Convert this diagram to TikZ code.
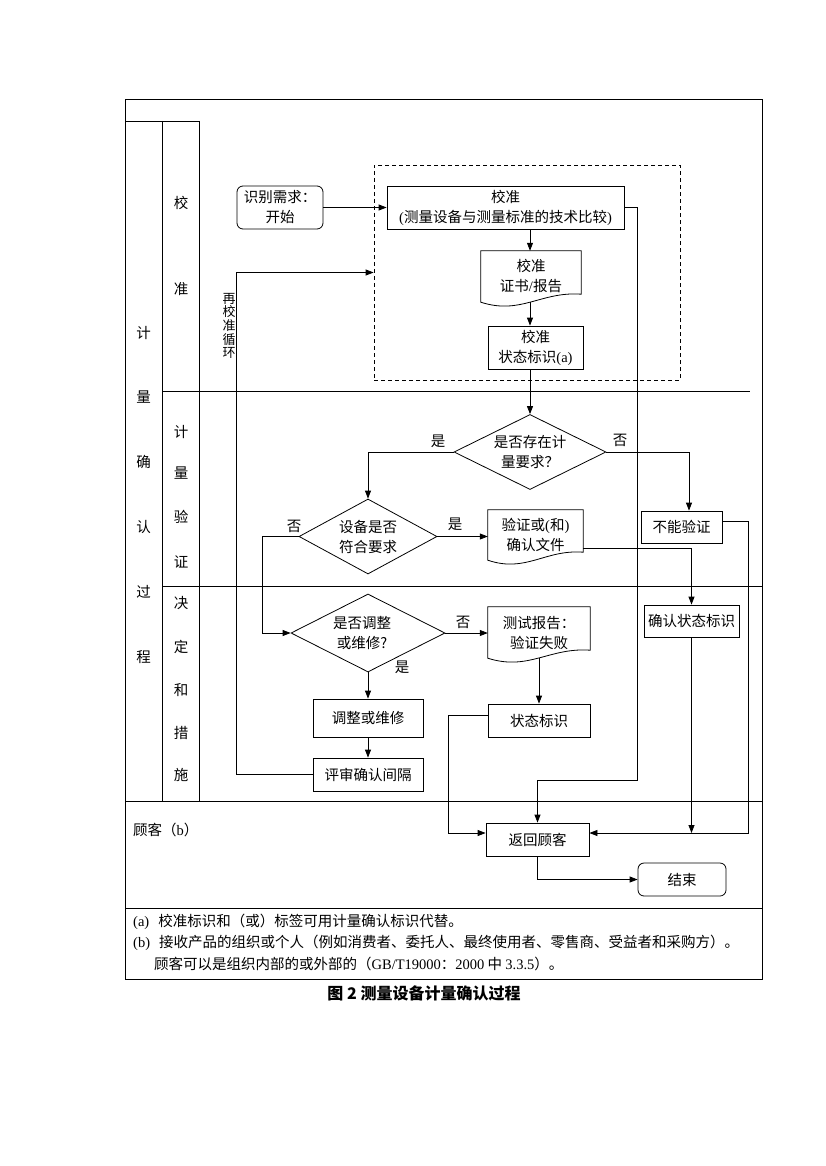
\documentclass[tikz,border=0pt]{standalone}
\usepackage{fontspec}
\setmainfont{Liberation Serif}
\newfontfamily\cjk{Noto Sans CJK SC}
\usetikzlibrary{arrows.meta,calc,shapes.geometric}
\newcommand\latn[1]{{\rmfamily #1}}
\newcommand\docout[1]{\draw[lw] (#1.north west) -- (#1.north east) -- ($(#1.south east)+(0,-8)$) .. controls ($(#1.south east)!0.4!(#1.south west)+(0,-11)$) and ($(#1.south west)!0.4!(#1.south east)+(0,13)$) .. (#1.south west) -- cycle;}
\begin{document}
\begin{tikzpicture}[x=1pt,y=-1pt,
  lw/.style={line width=0.8pt},
  frame/.style={line width=0.9pt},
  arr/.style={lw,-{Triangle[length=8pt,width=6pt]}},
  txt/.style={inner sep=0pt,align=center,font=\cjk\fontsize{14.5}{20}\selectfont},
  box/.style={txt,draw,lw,rectangle},
  rbox/.style={box,rounded corners=6pt},
  docn/.style={txt,rectangle},
  dia/.style={draw,lw,diamond,inner sep=0pt},
  zone/.style={draw,lw,dash pattern=on 4pt off 3pt,rectangle,inner sep=0pt},
  lane/.style={txt},
  yn/.style={txt}
]
\useasboundingbox (0,0) rectangle (825,1166);
\fill[white] (0,0) rectangle (825,1166);

% frame and lanes
\draw[frame] (125,99) rectangle (762,979);
\draw[frame] (125,121) -- (199,121);
\draw[frame] (162,121) -- (162,801);
\draw[frame] (199,121) -- (199,801);
\draw[frame] (162,391) -- (750,391);
\draw[frame] (162,586) -- (762,586);
\draw[frame] (125,801) -- (762,801);
\draw[frame] (125,908) -- (762,908);

% lane labels
\foreach \c/\y in {计/333,量/397,确/462,认/527,过/592,程/657}
  \node[lane] at (143.5,\y) {\c};
\foreach \c/\y in {校/203,准/289,计/432,量/473,验/517,证/562,决/603,定/647,和/690,措/733,施/775}
  \node[lane] at (181,\y) {\c};
\node[lane,anchor=west] (cust) at (133,830) {顾客（\latn{b}）};

% calibration zone
\node[zone,minimum width=306pt,minimum height=215pt] (zone) at (527,272.5) {};

% nodes
\node[rbox,minimum width=86pt,minimum height=43pt] (start) at (280,207.5) {识别需求：\\开始};
\node[box,minimum width=237pt,minimum height=43pt] (cal) at (505.5,207.5) {校准\\\latn{(}测量设备与测量标准的技术比较\latn{)}};
\node[docn,minimum width=100pt,minimum height=51pt] (cert) at (531,276.5) {校准\\证书\latn{/}报告};
\docout{cert}
\node[box,minimum width=95pt,minimum height=43pt] (stat) at (535.5,347.5) {校准\\状态标识\latn{(a)}};

\node[dia,minimum width=152pt,minimum height=75pt] (d1) at (530,452) {};
\node[txt] at (d1) {是否存在计\\量要求？};
\node[dia,minimum width=138pt,minimum height=75pt] (d2) at (368,536.5) {};
\node[txt] at (d2) {设备是否\\符合要求};
\node[docn,minimum width=95pt,minimum height=50pt] (verdoc) at (535.5,535) {验证或\latn{(}和\latn{)}\\确认文件};
\docout{verdoc}
\node[box,minimum width=81pt,minimum height=32pt] (cannot) at (681.5,527) {不能验证};

\node[dia,minimum width=154pt,minimum height=78pt] (d3) at (368,633) {};
\node[txt] at ($(d3)+(-6,0)$) {是否调整\\或维修?};
\node[docn,minimum width=102pt,minimum height=51pt] (testdoc) at (539,632.5) {测试报告：\\验证失败};
\docout{testdoc}
\node[box,minimum width=95pt,minimum height=32pt] (confirm) at (691.5,621) {确认状态标识};

\node[box,minimum width=110pt,minimum height=38pt] (adjust) at (368,718) {调整或维修};
\node[box,minimum width=110pt,minimum height=33pt] (review) at (368,774.5) {评审确认间隔};
\node[box,minimum width=102pt,minimum height=33pt] (status) at (539,720.5) {状态标识};

\node[box,minimum width=103pt,minimum height=33pt] (ret) at (537.5,839.5) {返回顾客};
\node[rbox,minimum width=88pt,minimum height=33pt] (end) at (682,879.5) {结束};

% yes/no labels
\node[yn] at (438,441) {是};
\node[yn] at (620,440) {否};
\node[yn] at (455,524) {是};
\node[yn] at (294,526) {否};
\node[yn] at (463,622) {否};
\node[yn] at (402,667) {是};

% re-calibration loop label
\node[inner sep=0pt,align=center,font=\cjk\fontsize{13}{13.6}\selectfont] (loop) at (229,326) {再\\校\\准\\循\\环};

% connectors
\coordinate (bend) at (637,780);
\draw[arr] (start.east) -- (cal.west);
\draw[arr] (cal.south -| d1.north) -- (cert.north -| d1.north);
\draw[arr] (cert.south -| d1.north) -- (stat.north -| d1.north);
\draw[arr] (stat.south -| d1.north) -- (d1.north);
\draw[arr] (d1.west) -| (d2.north);
\draw[arr] (d1.east) -| ($(cannot.north)+(7.5,0)$);
\draw[arr] (d2.east) -- (d2.east -| verdoc.west);
\draw[arr] (d2.west) -- ++(-36,0) |- (d3.west);
\draw[arr] (d3.east) -- (d3.east -| testdoc.west);
\draw[arr] (d3.south) -- (adjust.north);
\draw[arr] (adjust.south) -- (review.north);
\draw[arr] (review.west) -| ($(zone.west)+(-137,0)$) -- (zone.west);
\draw[arr] (testdoc.south) -- (status.north);
\draw[arr] ($(verdoc.east)+(0,13)$) -| (confirm.north);
\draw[arr] ($(cannot.east)+(0,-6)$) -- ++(26,0) |- ($(ret.east)+(0,-6.5)$);
\draw[arr] (confirm.south) -- ($(confirm.south |- ret.east)+(0,-6.5)$);
\draw[arr] ($(status.west)+(0,-5.5)$) -- ++(-39,0) |- ($(ret.west)+(0,-6.5)$);
\draw[arr] (cal.east) -| (bend) -| (ret.north);
\draw[arr] (ret.south) |- (end.west);

% footnotes
\node[txt,anchor=west] (fa) at (133,922) {\latn{(a)}\hspace{9pt}校准标识和（或）标签可用计量确认标识代替。};
\node[txt,anchor=west] (fb) at (133,943) {\latn{(b)}\hspace{9pt}接收产品的组织或个人（例如消费者、委托人、最终使用者、零售商、受益者和采购方）。};
\node[txt,anchor=west] (fc) at (154,964) {顾客可以是组织内部的或外部的（\latn{GB/T19000}：\latn{2000} 中 \latn{3.3.5}）。};

% caption
\node[inner sep=0pt,font=\cjk\bfseries\fontsize{16}{20}\selectfont] (cap) at (424,993) {图 2 测量设备计量确认过程};
\end{tikzpicture}
\end{document}
